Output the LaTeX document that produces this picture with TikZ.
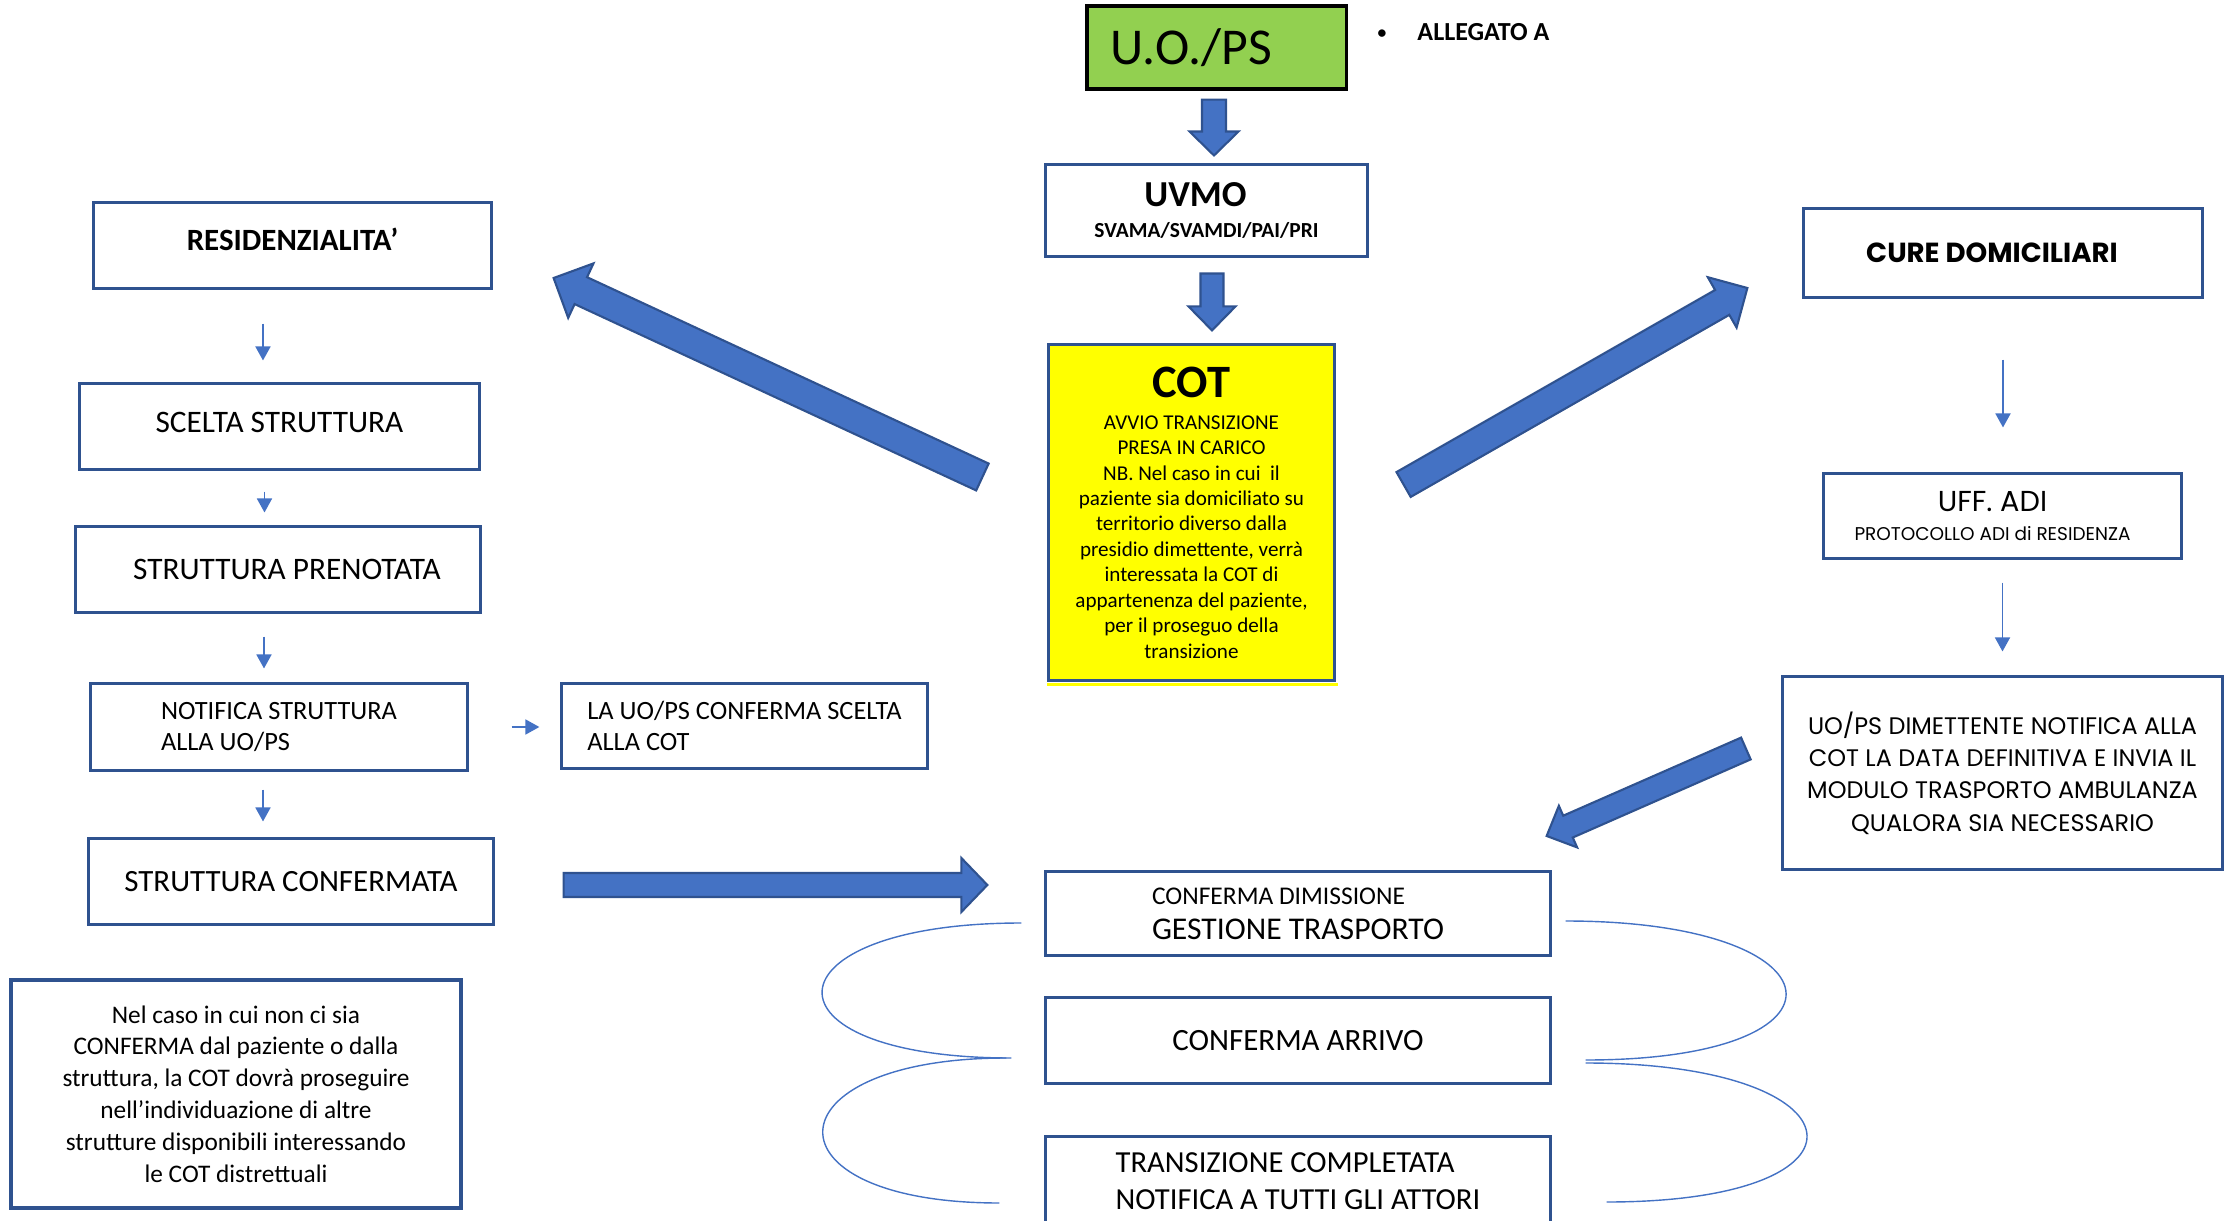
\documentclass[tikz,border=0pt]{standalone}
\usepackage{fontspec}
\setmainfont{Carlito}
\newfontfamily\widefont{Poppins}
\usetikzlibrary{arrows.meta, calc}
\definecolor{boxline}{RGB}{47, 82, 143}
\definecolor{blockfill}{RGB}{68, 114, 196}
\definecolor{uogreen}{RGB}{146, 208, 80}
\definecolor{cotyellow}{RGB}{255, 255, 0}
\newcommand{\setfs}[2]{\fontsize{#1}{#2}\selectfont}
% block arrow: tail, tip, half shaft, half head, head length
\newcommand{\blockarrow}[5]{%
  \coordinate (ba-base) at ($(#2)!#5!(#1)$);
  \filldraw[blockarrow] ($(#1)!#3!90:(#2)$) -- ($(ba-base)!#3!90:(#2)$)
    -- ($(ba-base)!#4!90:(#2)$) -- (#2) -- ($(ba-base)!#4!-90:(#2)$)
    -- ($(ba-base)!#3!-90:(#2)$) -- ($(#1)!#3!-90:(#2)$) -- cycle;}

\begin{document}
\begin{tikzpicture}[x=0.01cm, y=-0.01cm,
    box/.style={draw=boxline, line width=0.85pt, fill=white, inner sep=0pt, align=center},
    flow/.style={draw=blockfill, line width=0.5pt, -{Triangle[width=0.15cm, length=0.14cm]}},
    loopline/.style={draw=blockfill, line width=0.4pt},
    blockarrow/.style={fill=blockfill, draw=boxline, line width=0.6pt}]
    \useasboundingbox (0,0) rectangle (2226,1221);

    % Top
    \node[box, draw=black, line width=0.9pt, fill=uogreen, minimum width=2.59cm, minimum height=0.83cm,
        font=\setfs{14.7}{17}] (uo) at (1216.5,47.5) {U.O./PS\hspace*{0.5cm}};
    \node[anchor=base west, inner sep=0pt, font=\bfseries\setfs{7.4}{9}] (allegato) at (1377,41)
        {\raisebox{0.8pt}{\setfs{5}{6}\textbullet}\hspace{0.31cm}ALLEGATO A};
    \node[box, minimum width=3.21cm, minimum height=0.91cm, font=\bfseries\setfs{6.1}{8.8}] (uvmo) at (1206.5,210.5)
        {{\setfs{10.4}{12}UVMO\hspace*{0.22cm}}\\SVAMA/SVAMDI/PAI/PRI};
    \node[box, fill=cotyellow, minimum width=2.85cm, minimum height=3.35cm, font=\setfs{6}{7.24}] (cot) at (1191.5,512.5)
        {{\bfseries\setfs{13.2}{15}COT}\\[1.9pt]
         AVVIO TRANSIZIONE\\PRESA IN CARICO\\NB. Nel caso in cui \ il\\paziente sia domiciliato su\\
         territorio diverso dalla\\presidio dimettente, verrà\\interessata la COT di\\
         appartenenza del paziente,\\per il proseguo della\\transizione};
    \fill[cotyellow] ([yshift=-0.015cm]cot.south west) rectangle ([shift={(2,4)}]cot.south east);

    % Residenzialita
    \node[box, text depth=0.12cm, minimum width=3.97cm, minimum height=0.85cm, font=\bfseries\setfs{8.8}{10}] (resid) at (292.5,245.5) {RESIDENZIALITA’};
    \node[box, text depth=0.08cm, minimum width=3.99cm, minimum height=0.85cm, font=\setfs{8.9}{10}] (scelta) at (279.5,426.5) {SCELTA STRUTTURA};
    \node[box, minimum width=4.04cm, minimum height=0.85cm, font=\setfs{8.9}{10}] (prenot) at (278,569.5) {\hspace*{0.18cm}STRUTTURA PRENOTATA};
    \node[box, align=left, minimum width=3.76cm, minimum height=0.86cm, font=\setfs{7.5}{9}] (notif) at (279,727)
        {NOTIFICA STRUTTURA\\ALLA UO/PS};
    \node[box, align=left, minimum width=3.65cm, minimum height=0.84cm, font=\setfs{7.5}{9}] (lauo) at (744.5,726)
        {LA UO/PS CONFERMA SCELTA\\ALLA COT};
    \node[box, minimum width=4.04cm, minimum height=0.85cm, font=\setfs{8.8}{10}] (strconf) at (291,881.5) {STRUTTURA CONFERMATA};
    \node[box, line width=1.3pt, minimum width=4.5cm, minimum height=2.28cm, font=\setfs{7.2}{9.05}] (note) at (236,1094)
        {Nel caso in cui non ci sia\\CONFERMA dal paziente o dalla\\struttura, la COT dovrà proseguire\\
         nell’individuazione di altre\\strutture disponibili interessando\\le COT distrettuali};

    % Cure domiciliari
    \node[box, minimum width=3.98cm, minimum height=0.88cm, font=\widefont\bfseries\setfs{7.85}{9}] (cure) at (2003,253)
        {CURE DOMICILIARI\hspace*{0.22cm}};
    \node[box, minimum width=3.57cm, minimum height=0.84cm, font=\widefont\setfs{5.25}{8}] (ufadi) at (2002.5,516)
        {{\setfs{8.2}{9}UFF. ADI\hspace*{0.2cm}}\\PROTOCOLLO ADI di RESIDENZA\hspace*{0.2cm}};
    \node[box, minimum width=4.39cm, minimum height=1.92cm, font=\widefont\setfs{6.8}{9.2}] (uodim) at (2002.5,773)
        {UO/PS DIMETTENTE NOTIFICA ALLA\\COT LA DATA DEFINITIVA E INVIA IL\\MODULO TRASPORTO AMBULANZA\\QUALORA SIA NECESSARIO};

    % Dimissione
    \node[box, align=left, minimum width=5.04cm, minimum height=0.84cm, font=\setfs{9}{10}] (confdim) at (1298,913.5)
        {{\setfs{7.25}{9}CONFERMA DIMISSIONE}\\GESTIONE TRASPORTO};
    \node[box, minimum width=5.04cm, minimum height=0.85cm, font=\setfs{8.8}{10}] (arrivo) at (1298,1040.5) {CONFERMA ARRIVO};
    \node[box, align=left, minimum width=5.04cm, minimum height=0.88cm, font=\setfs{8.7}{10.5}] (transiz) at (1298,1181)
        {TRANSIZIONE COMPLETATA\\NOTIFICA A TUTTI GLI ATTORI};

    % Thin arrows
    \draw[flow, shorten <=0.34cm, shorten >=0.22cm] ([xshift=-0.295cm]resid.south) -- ([xshift=-0.295cm]resid.south |- scelta.north);
    \draw[flow, shorten <=0.21cm, shorten >=0.13cm] ([xshift=-0.15cm]scelta.south) -- ([xshift=-0.15cm]scelta.south |- prenot.north);
    \draw[flow, shorten <=0.23cm, shorten >=0.14cm] ([xshift=-0.14cm]prenot.south) -- ([xshift=-0.14cm]prenot.south |- notif.north);
    \draw[flow, shorten <=0.18cm, shorten >=0.16cm] ([xshift=-0.16cm]notif.south) -- ([xshift=-0.16cm]notif.south |- strconf.north);
    \draw[flow, shorten <=0.43cm, shorten >=0.21cm] (notif.east) -- (notif.east -| lauo.west);
    \draw[flow, shorten <=0.61cm, shorten >=0.45cm] (cure.south) -- (cure.south |- ufadi.north);
    \draw[flow, shorten <=0.23cm, shorten >=0.24cm] (ufadi.south) -- (ufadi.south |- uodim.north);

    % Block arrows
    \coordinate (a1-tail) at ($(uo.south)+(-2.5,9)$);
    \coordinate (a1-tip) at ($(uvmo.north)+(7.5,-8)$);
    \blockarrow{a1-tail}{a1-tip}{0.12cm}{0.245cm}{0.24cm}
    \coordinate (a2-tail) at ($(uvmo.south)+(5.5,16)$);
    \coordinate (a2-tip) at ($(cot.north)+(20.5,-13)$);
    \blockarrow{a2-tail}{a2-tip}{0.115cm}{0.235cm}{0.24cm}
    \coordinate (res-tail) at ($(cot.west)+(-65,-35.5)$);
    \coordinate (res-tip) at ($(resid.east)+(61,32.5)$);
    \blockarrow{res-tail}{res-tip}{0.148cm}{0.30cm}{0.30cm}
    \coordinate (cure-tail) at ($(cot.east)+(68,-28)$);
    \coordinate (cure-tip) at ($(cure.west)+(-55,35)$);
    \blockarrow{cure-tail}{cure-tip}{0.143cm}{0.29cm}{0.29cm}
    \coordinate (dim-tail) at ($(uodim.west)+(-35.5,-24.5)$);
    \coordinate (dim-tip) at ($(confdim.north east)+(-5,-34)$);
    \blockarrow{dim-tail}{dim-tip}{0.119cm}{0.227cm}{0.233cm}
    \coordinate (conf-tail) at ($(strconf.east)+(69,3.5)$);
    \coordinate (conf-tip) at ($(confdim.west)+(-57,-28.5)$);
    \blockarrow{conf-tail}{conf-tip}{0.12cm}{0.27cm}{0.26cm}

    % Loops
    \draw[loopline] ([shift={(-23,9.5)}]confdim.west) to[out=180, in=180, looseness=4.9] ([shift={(-33,17.5)}]arrivo.west);
    \draw[loopline] ([shift={(-38,17.5)}]arrivo.west) to[out=180, in=180, looseness=4.23] ([shift={(-45,22)}]transiz.west);
    \draw[loopline] ([shift={(14,7.5)}]confdim.east) to[out=0, in=0, looseness=5.11] ([shift={(34,19.5)}]arrivo.east);
    \draw[loopline] ([shift={(34,22.5)}]arrivo.east) to[out=0, in=0, looseness=5.12] ([shift={(55,21)}]transiz.east);
\end{tikzpicture}
\end{document}
